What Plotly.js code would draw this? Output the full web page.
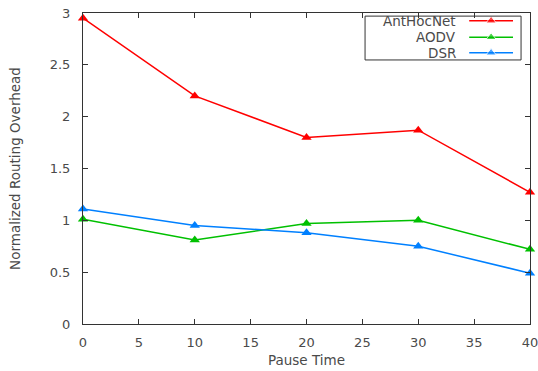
<!DOCTYPE html>
<html><head><meta charset="utf-8">
<script src="https://cdn.plot.ly/plotly-3.0.1.min.js"></script>
<style>html,body{margin:0;padding:0;background:#fff}#c{width:538px;height:371px}</style>
</head><body><div id="c"></div>
<script>
const pauseTime = [0, 10, 20, 30, 40];
const antHocNet = [2.95, 2.20, 1.80, 1.87, 1.27];
const aodv = [1.01, 0.81, 0.97, 1.00, 0.72];
const dsr = [1.11, 0.95, 0.88, 0.75, 0.49];
const seriesNames = ['AntHocNet', 'AODV', 'DSR'];
const seriesColors = ['#ff0000', '#00c000', '#0080ff'];
const seriesData = [antHocNet, aodv, dsr];

const fam = 'DejaVu Sans, sans-serif';
const tickFont = {family: fam, size: 13, color: '#4a4a4a'};
const titleFont = {family: fam, size: 13.5, color: '#4a4a4a'};
const traces = seriesData.map((ys, i) => ({
  x: pauseTime, y: ys, type: 'scatter', mode: 'lines+markers', name: seriesNames[i],
  line: {color: seriesColors[i], width: 1.5},
  marker: {symbol: 'triangle-up', size: 9, color: seriesColors[i]},
  cliponaxis: false, showlegend: false
}));

// custom gnuplot-style legend (text left, sample right)
const rowsY = [0.975, 0.922, 0.872];
const annotations = [];
seriesNames.forEach((n, i) => {
  traces.push({
    x: [0.864, 0.913, 0.962], y: [rowsY[i], rowsY[i], rowsY[i]], xaxis: 'x2', yaxis: 'y2',
    type: 'scatter', mode: 'lines+markers', showlegend: false, hoverinfo: 'skip',
    line: {color: seriesColors[i], width: 1.5},
    marker: {symbol: 'triangle-up', size: [0, 9, 0], color: seriesColors[i]},
    cliponaxis: false
  });
  annotations.push({xref: 'paper', yref: 'paper', x: 0.839, y: rowsY[i], xanchor: 'right', yanchor: 'middle',
    text: n, showarrow: false, font: titleFont});
});

const layout = {
  width: 538, height: 371,
  margin: {l: 83, r: 8, t: 13, b: 47},
  paper_bgcolor: '#fff', plot_bgcolor: '#fff',
  font: tickFont,
  showlegend: false,
  xaxis: {range: [0, 40], dtick: 5, tick0: 0, ticks: 'inside', ticklen: 5, tickcolor: '#333',
    showline: true, linecolor: '#333', linewidth: 1, mirror: 'ticks', showgrid: false, zeroline: false,
    ticklabelstandoff: 6, ticklabeloverflow: 'allow',
    title: {text: 'Pause Time', font: titleFont, standoff: 6},
    tickfont: tickFont},
  yaxis: {range: [0, 3], dtick: 0.5, tick0: 0, ticks: 'inside', ticklen: 5, tickcolor: '#333',
    showline: true, linecolor: '#333', linewidth: 1, mirror: 'ticks', showgrid: false, zeroline: false,
    ticklabelstandoff: 9, ticklabeloverflow: 'allow',
    title: {text: 'Normalized Routing Overhead', font: titleFont, standoff: 25},
    tickfont: tickFont},
  xaxis2: {overlaying: 'x', range: [0, 1], visible: false, fixedrange: true},
  yaxis2: {overlaying: 'y', range: [0, 1], visible: false, fixedrange: true},
  shapes: [{type: 'rect', xref: 'paper', yref: 'paper', x0: 0.631, x1: 0.980, y0: 0.849, y1: 0.990,
    line: {color: '#333', width: 1}, fillcolor: 'rgba(0,0,0,0)'}],
  annotations: annotations
};
Plotly.newPlot('c', traces, layout, {staticPlot: true, displayModeBar: false});
</script></body></html>
